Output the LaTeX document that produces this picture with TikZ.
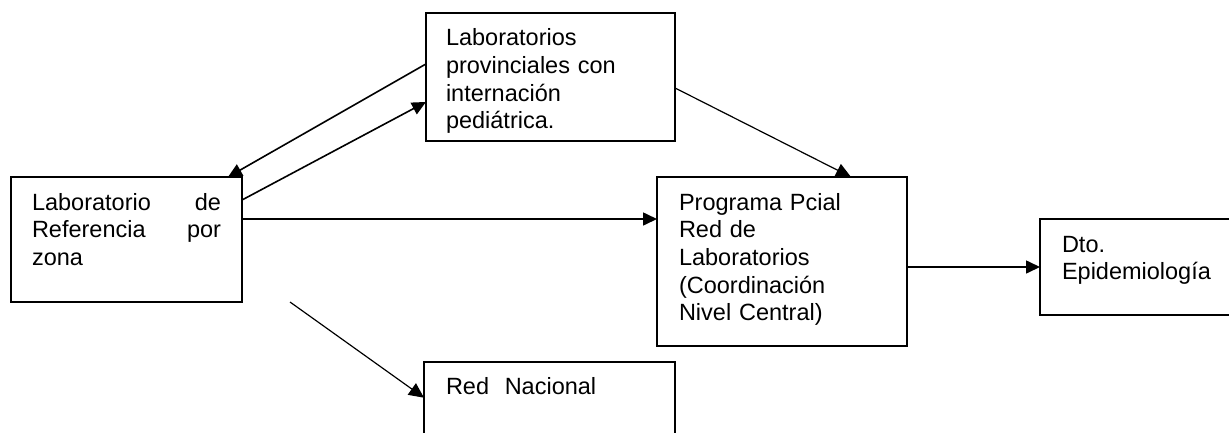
\documentclass[tikz,border=0pt]{standalone}
\usepackage{fontspec}
\setmainfont{Liberation Sans}
\usetikzlibrary{arrows.meta}
\begin{document}
\begin{tikzpicture}[x=1pt,y=-1pt,
  boxnode/.style={draw=black,line width=1.8pt,fill=white,anchor=north west,
    inner xsep=#1,inner ysep=0pt,outer sep=0pt,align=left,
    font=\fontsize{23.5}{27.7}\selectfont,text height=33pt},
  conn/.style={line width=1.6pt,-{Triangle[length=14pt,width=13pt]}},
  thinconn/.style={line width=1.2pt,-{Triangle[length=15pt,width=14pt]}}]
\useasboundingbox (0,0) rectangle (1229,432);
\fill[white] (0,0) rectangle (1229,432);
% boxes
\node[boxnode=21pt,text width=189pt,text depth=92pt] (ref) at (11,177)
  {Laboratorio\hfill de\\Referencia\hfill por\\zona};
\node[boxnode=20pt,text width=209pt,text depth=95.5pt] (prov) at (426,12.7)
  {Laboratorios\\provinciales con\\internación\\pediátrica.};
\node[boxnode=22pt,text width=206pt,text depth=136pt] (prog) at (657,177)
  {Programa Pcial\\Red de\\Laboratorios\\(Coordinación\\Nivel Central)};
\node[boxnode=22pt,text width=190pt,text depth=63pt] (dto) at (1040,219)
  {Dto.\\Epidemiología};
\node[boxnode=22pt,text width=207pt,text depth=80pt] (red) at (424,361.7)
  {Red\ \ Nacional};
\coordinate (free) at (290,302);
% connectors
\draw[conn] ([yshift=13pt]prov.west) -- ([xshift=217pt]ref.north west);
\draw[conn] ([yshift=-23pt]ref.north east) -- ([yshift=-25pt]prov.west);
\draw[conn] ([yshift=-42pt]ref.north east) -- ([yshift=-42pt]prog.north west);
\draw[thinconn] ([yshift=-11pt]prov.east) -- ([xshift=194pt]prog.north west);
\draw[conn] (prog.east |- dto.west) -- (dto.west);
\draw[thinconn] (free) -- ([yshift=-36pt]red.north west);
\end{tikzpicture}
\end{document}
